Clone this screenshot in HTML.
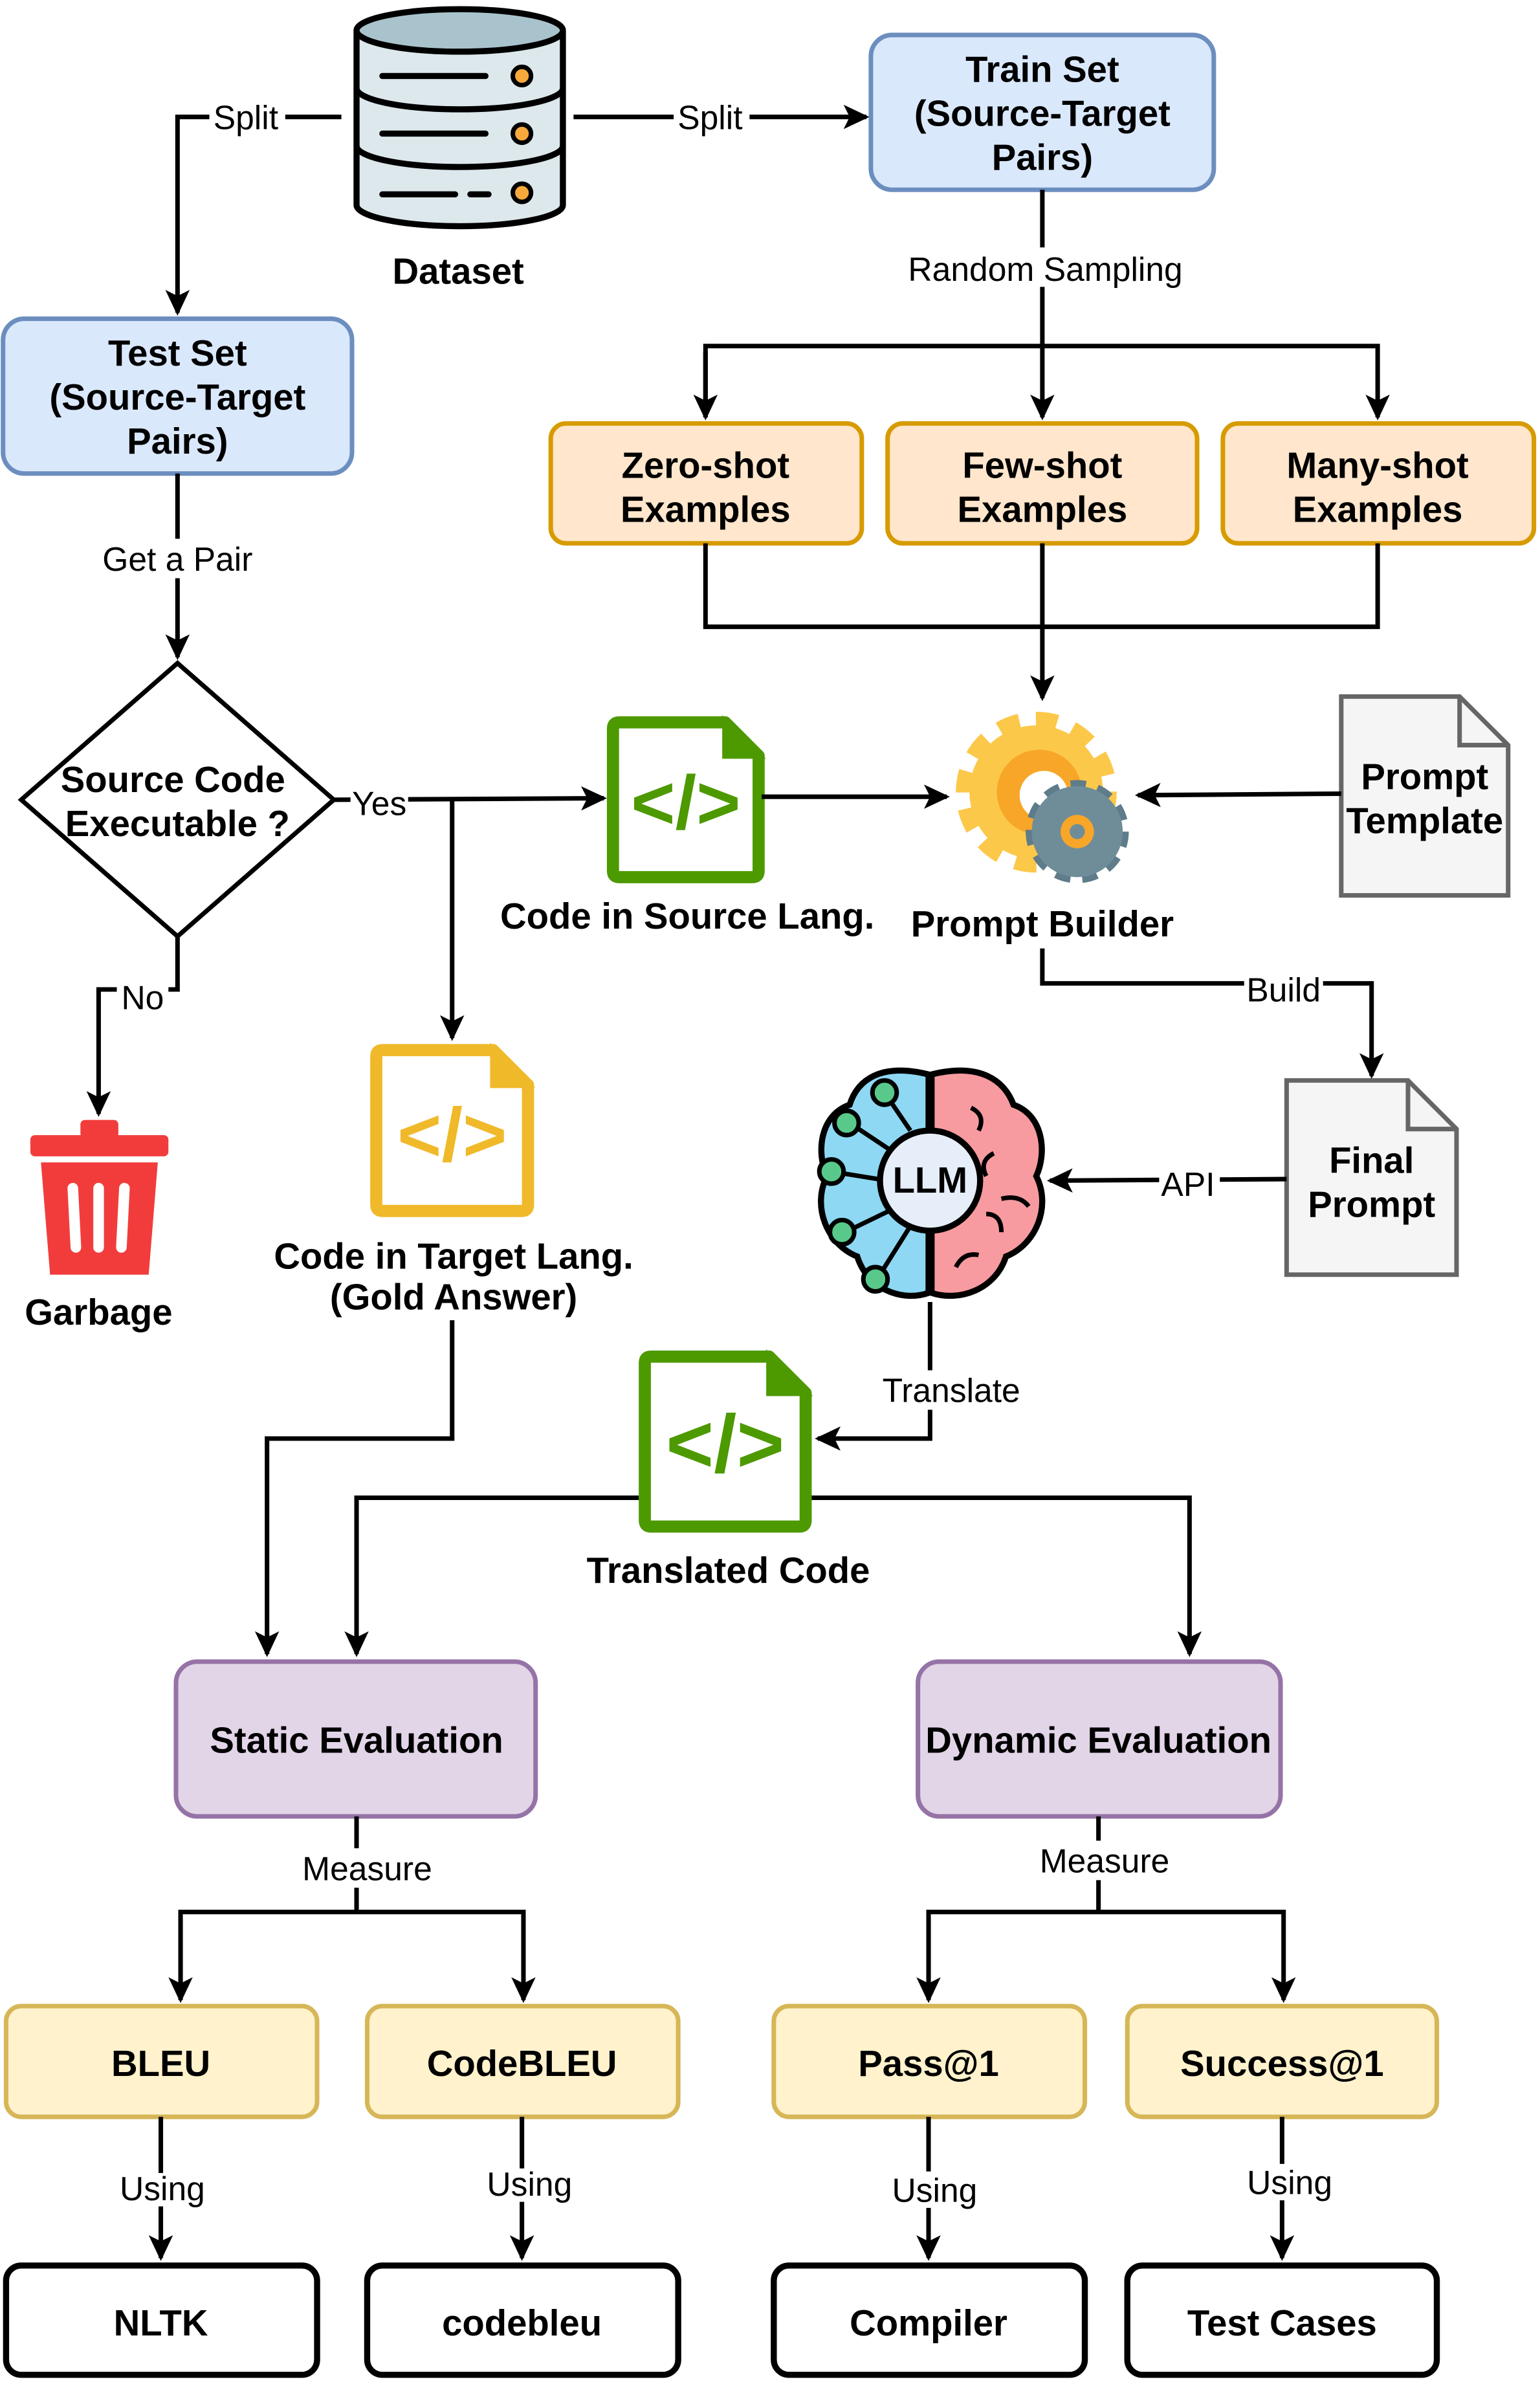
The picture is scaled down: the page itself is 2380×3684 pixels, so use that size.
<!DOCTYPE html>
<html><head><meta charset="utf-8"><style>
html,body{margin:0;padding:0;background:#fff;}
svg{display:block;}
text{font-family:"Liberation Sans",Arial,sans-serif;}
.b{font-weight:bold;font-size:24px;text-anchor:middle;fill:#000;}
.l{font-size:22px;text-anchor:middle;fill:#000;}
.ln{fill:none;stroke:#000;stroke-width:3;}
</style></head><body>
<svg width="2380" height="3684" viewBox="0 0 1015 1571" xmlns="http://www.w3.org/2000/svg">
<defs>
<marker id="ah" markerWidth="18" markerHeight="18" refX="15" refY="9" orient="auto" markerUnits="userSpaceOnUse" viewBox="0 0 18 18"><path d="M0,1 L17,9 L0,17 L4,9 Z" fill="#000"/></marker>
</defs>
<rect width="1015" height="1571" fill="#fff"/>

<g stroke="#000" stroke-width="4" fill="#dde8ec">
<path d="M235,20 L235,135 A68,14 0 0 0 371,135 L371,20"/>
<ellipse cx="303" cy="20" rx="68" ry="14" fill="#a9c3cc"/>
<path d="M235,58 A68,14 0 0 0 371,58 M235,96 A68,14 0 0 0 371,96" fill="none"/>
<path d="M252,50 L320,50 M252,88 L320,88 M252,128 L300,128 M310,128 L322,128" fill="none" stroke-linecap="round"/>
<circle cx="344" cy="50" r="6" fill="#f7a93b" stroke-width="3"/>
<circle cx="344" cy="88" r="6" fill="#f7a93b" stroke-width="3"/>
<circle cx="344" cy="127" r="6" fill="#f7a93b" stroke-width="3"/>
</g>
<text class="b" x="302" y="187" font-size="23">Dataset</text>

<rect x="574" y="23" width="226" height="102" rx="14" fill="#dae8fc" stroke="#6c8ebf" stroke-width="3"/>
<text class="b" x="687" y="54">Train Set</text>
<text class="b" x="687" y="83">(Source-Target</text>
<text class="b" x="687" y="112">Pairs)</text>

<rect x="2" y="210" width="230" height="102" rx="14" fill="#dae8fc" stroke="#6c8ebf" stroke-width="3"/>
<text class="b" x="117" y="241">Test Set</text>
<text class="b" x="117" y="270">(Source-Target</text>
<text class="b" x="117" y="299">Pairs)</text>

<path class="ln" d="M225,77 L117,77 L117,206" marker-end="url(#ah)"/>
<rect x="138" y="65" width="50" height="24" fill="#fff"/>
<text class="l" x="162" y="85">Split</text>
<path class="ln" d="M378,77 L571,77" marker-end="url(#ah)"/>
<rect x="444" y="65" width="50" height="24" fill="#fff"/>
<text class="l" x="468" y="85">Split</text>

<path class="ln" d="M687,125 L687,228"/>
<path class="ln" d="M465,275 L465,228 L908,228 L908,275" marker-end="url(#ah)"/>
<path class="ln" d="M465,232 L465,275" marker-end="url(#ah)"/>
<path class="ln" d="M687,228 L687,275" marker-end="url(#ah)"/>
<rect x="596" y="163" width="186" height="26" fill="#fff"/>
<text class="l" x="689" y="185">Random Sampling</text>

<g fill="#ffe6cc" stroke="#d79b00" stroke-width="3">
<rect x="363" y="279" width="205" height="79" rx="10"/>
<rect x="585" y="279" width="204" height="79" rx="10"/>
<rect x="806" y="279" width="205" height="79" rx="10"/>
</g>
<text class="b" x="465" y="315">Zero-shot</text><text class="b" x="465" y="344">Examples</text>
<text class="b" x="687" y="315">Few-shot</text><text class="b" x="687" y="344">Examples</text>
<text class="b" x="908" y="315">Many-shot</text><text class="b" x="908" y="344">Examples</text>
<path class="ln" d="M465,358 L465,413 L908,413 L908,358"/>
<path class="ln" d="M687,358 L687,460" marker-end="url(#ah)"/>

<path class="ln" d="M117,312 L117,433" marker-end="url(#ah)"/>
<rect x="64" y="355" width="108" height="26" fill="#fff"/>
<text class="l" x="117" y="376">Get a Pair</text>

<path d="M117,437 L220,527 L117,617 L14,527 Z" fill="#fff" stroke="#000" stroke-width="3"/>
<text class="b" x="114" y="522">Source Code</text>
<text class="b" x="117" y="551">Executable ?</text>

<path class="ln" d="M220,527 L398,526" marker-end="url(#ah)"/>
<path class="ln" d="M298,527 L298,684" marker-end="url(#ah)"/>
<rect x="231" y="517" width="38" height="24" fill="#fff"/>
<text class="l" x="250" y="537">Yes</text>

<path d="M408,476 L478,476 L500,498 L500,574 Q500,578 496,578 L408,578 Q404,578 404,574 L404,480 Q404,476 408,476 Z" fill="#fff" stroke="#4d9900" stroke-width="8" stroke-linejoin="round"/>
<path d="M478,476 L478,498 L500,498 Z" fill="#4d9900" stroke="#4d9900" stroke-width="4"/>
<text x="452" y="546" font-size="50" font-weight="bold" fill="#4d9900" text-anchor="middle" font-family="Liberation Mono">&lt;/&gt;</text>
<text class="b" x="453" y="612" font-size="23">Code in Source Lang.</text>
<path class="ln" d="M502,525 L624,525" marker-end="url(#ah)"/>

<g>
<circle cx="683" cy="522" r="44" fill="#fcc84a" stroke="#fcc84a" stroke-width="18" stroke-dasharray="13 10"/>
<circle cx="683" cy="522" r="44" fill="#fcc84a"/>
<circle cx="685" cy="522" r="28" fill="#f8a628"/>
<circle cx="688" cy="524" r="16" fill="#fff"/>
<circle cx="710" cy="548" r="28" fill="#5e7c8a" stroke="#5e7c8a" stroke-width="12" stroke-dasharray="9 7"/>
<circle cx="710" cy="548" r="30" fill="#6f8d99"/>
<circle cx="710" cy="548" r="11" fill="#f8a628"/>
<circle cx="710" cy="548" r="5" fill="#6f8d99"/>
</g>
<text class="b" x="687" y="617" font-size="23">Prompt Builder</text>

<path d="M884,459 L962,459 L994,491 L994,590 L884,590 Z" fill="#f5f5f5" stroke="#666" stroke-width="3"/>
<path d="M962,459 L962,491 L994,491" fill="none" stroke="#666" stroke-width="3"/>
<text class="b" x="939" y="520">Prompt</text>
<text class="b" x="939" y="549">Template</text>
<path class="ln" d="M884,523 L750,524" marker-end="url(#ah)"/>

<path class="ln" d="M687,625 L687,648 L904,648 L904,709" marker-end="url(#ah)"/>
<rect x="820" y="639" width="52" height="24" fill="#fff"/>
<text class="l" x="846" y="660">Build</text>

<path d="M848,712 L928,712 L960,744 L960,840 L848,840 Z" fill="#f5f5f5" stroke="#666" stroke-width="3"/>
<path d="M928,712 L928,744 L960,744" fill="none" stroke="#666" stroke-width="3"/>
<text class="b" x="904" y="773">Final</text>
<text class="b" x="904" y="802">Prompt</text>
<path class="ln" d="M848,777 L692,778" marker-end="url(#ah)"/>
<rect x="764" y="767" width="40" height="24" fill="#fff"/>
<text class="l" x="783" y="788">API</text>

<g stroke="#000" stroke-width="4">
<path d="M612,708 C580,700 565,712 560,728 C540,735 538,760 545,775 C535,795 545,820 565,828 C572,850 595,858 612,852 Z" fill="#8ed8f4"/>
<path d="M614,708 C646,700 662,712 668,728 C688,735 690,760 683,775 C693,795 683,820 663,828 C656,850 632,858 614,852 Z" fill="#f79ba0"/>
<path d="M585,778 L548,772 M590,760 L560,740 M600,745 L583,720 M590,796 L557,812 M600,808 L578,843" fill="none" stroke-width="3"/>
<circle cx="548" cy="772" r="8" fill="#59c98b" stroke-width="3"/>
<circle cx="558" cy="740" r="8" fill="#59c98b" stroke-width="3"/>
<circle cx="583" cy="720" r="8" fill="#59c98b" stroke-width="3"/>
<circle cx="555" cy="812" r="8" fill="#59c98b" stroke-width="3"/>
<circle cx="577" cy="843" r="8" fill="#59c98b" stroke-width="3"/>
<path d="M640,730 q10,5 5,15 M655,760 q-10,5 -5,15 M650,800 q10,0 10,12 M630,835 q5,-10 15,-8 M660,790 q12,-3 18,5" fill="none" stroke-width="3"/>
<circle cx="613" cy="778" r="33" fill="#e6eefa" stroke-width="4"/>
</g>
<text class="b" x="613" y="786" font-size="21">LLM</text>

<path class="ln" d="M117,617 L117,652 L65,652 L65,734" marker-end="url(#ah)"/>
<rect x="77" y="645" width="34" height="24" fill="#fff"/>
<text class="l" x="94" y="665">No</text>

<g fill="#f23c3c">
<rect x="20" y="748" width="91" height="14" rx="3"/>
<rect x="53" y="738" width="25" height="12" rx="3"/>
<path d="M27,766 L104,766 L98,840 L33,840 Z"/>
</g>
<g stroke="#fff" stroke-width="7" stroke-linecap="round"><path d="M48,783 L50,822 M65,783 L65,822 M82,783 L80,822"/></g>
<text class="b" x="65" y="873" font-size="23">Garbage</text>

<path d="M252,692 L325,692 L348,715 L348,794 Q348,798 344,798 L252,798 Q248,798 248,794 L248,696 Q248,692 252,692 Z" fill="#fff" stroke="#f0b92a" stroke-width="8" stroke-linejoin="round"/>
<path d="M325,692 L325,715 L348,715 Z" fill="#f0b92a" stroke="#f0b92a" stroke-width="4"/>
<text x="298" y="765" font-size="50" font-weight="bold" fill="#f0b92a" text-anchor="middle" font-family="Liberation Mono">&lt;/&gt;</text>
<text class="b" x="299" y="836" font-size="23">Code in Target Lang.</text>
<text class="b" x="299" y="863" font-size="23">(Gold Answer)</text>

<path class="ln" d="M613,858 L613,948 L539,948" marker-end="url(#ah)"/>
<rect x="578" y="903" width="98" height="26" fill="#fff"/>
<text class="l" x="627" y="924">Translate</text>

<path d="M429,894 L507,894 L531,918 L531,1002 Q531,1006 527,1006 L429,1006 Q425,1006 425,1002 L425,898 Q425,894 429,894 Z" fill="#fff" stroke="#4d9900" stroke-width="8" stroke-linejoin="round"/>
<path d="M507,894 L507,918 L531,918 Z" fill="#4d9900" stroke="#4d9900" stroke-width="4"/>
<text x="478" y="970" font-size="54" font-weight="bold" fill="#4d9900" text-anchor="middle" font-family="Liberation Mono">&lt;/&gt;</text>
<text class="b" x="480" y="1043" font-size="23">Translated Code</text>

<path class="ln" d="M298,870 L298,948 L176,948 L176,1090" marker-end="url(#ah)"/>
<path class="ln" d="M421,987 L235,987 L235,1090" marker-end="url(#ah)"/>
<path class="ln" d="M535,987 L784,987 L784,1090" marker-end="url(#ah)"/>

<rect x="116" y="1095" width="237" height="102" rx="14" fill="#e1d5e7" stroke="#9673a6" stroke-width="3"/>
<text class="b" x="235" y="1155">Static Evaluation</text>
<rect x="605" y="1095" width="239" height="102" rx="14" fill="#e1d5e7" stroke="#9673a6" stroke-width="3"/>
<text class="b" x="724" y="1155">Dynamic Evaluation</text>

<path class="ln" d="M235,1197 L235,1260"/>
<path class="ln" d="M119,1318 L119,1260 L345,1260 L345,1318" marker-end="url(#ah)"/>
<path class="ln" d="M119,1264 L119,1318" marker-end="url(#ah)"/>
<rect x="194" y="1218" width="96" height="26" fill="#fff"/>
<text class="l" x="242" y="1239">Measure</text>

<path class="ln" d="M724,1197 L724,1260"/>
<path class="ln" d="M612,1318 L612,1260 L846,1260 L846,1318" marker-end="url(#ah)"/>
<path class="ln" d="M612,1264 L612,1318" marker-end="url(#ah)"/>
<rect x="681" y="1213" width="96" height="26" fill="#fff"/>
<text class="l" x="728" y="1234">Measure</text>

<g fill="#fff2cc" stroke="#d6b656" stroke-width="3">
<rect x="4" y="1322" width="205" height="73" rx="10"/>
<rect x="242" y="1322" width="205" height="73" rx="10"/>
<rect x="510" y="1322" width="205" height="73" rx="10"/>
<rect x="743" y="1322" width="204" height="73" rx="10"/>
</g>
<text class="b" x="106" y="1368">BLEU</text>
<text class="b" x="344" y="1368">CodeBLEU</text>
<text class="b" x="612" y="1368">Pass@1</text>
<text class="b" x="845" y="1368">Success@1</text>

<path class="ln" d="M106,1395 L106,1488" marker-end="url(#ah)"/>
<path class="ln" d="M344,1395 L344,1488" marker-end="url(#ah)"/>
<path class="ln" d="M612,1395 L612,1488" marker-end="url(#ah)"/>
<path class="ln" d="M845,1395 L845,1488" marker-end="url(#ah)"/>
<rect x="80" y="1432" width="54" height="22" fill="#fff"/><text class="l" x="107" y="1450" font-size="20">Using</text>
<rect x="322" y="1429" width="54" height="22" fill="#fff"/><text class="l" x="349" y="1447" font-size="20">Using</text>
<rect x="586" y="1431" width="60" height="24" fill="#fff"/><text class="l" x="616" y="1451">Using</text>
<rect x="820" y="1426" width="60" height="24" fill="#fff"/><text class="l" x="850" y="1446">Using</text>

<g fill="#fff" stroke="#000" stroke-width="4">
<rect x="4" y="1493" width="205" height="72" rx="10"/>
<rect x="242" y="1493" width="205" height="72" rx="10"/>
<rect x="510" y="1493" width="205" height="72" rx="10"/>
<rect x="743" y="1493" width="204" height="72" rx="10"/>
</g>
<text class="b" x="106" y="1539">NLTK</text>
<text class="b" x="344" y="1539">codebleu</text>
<text class="b" x="612" y="1539">Compiler</text>
<text class="b" x="845" y="1539">Test Cases</text>
</svg>
</body></html>
